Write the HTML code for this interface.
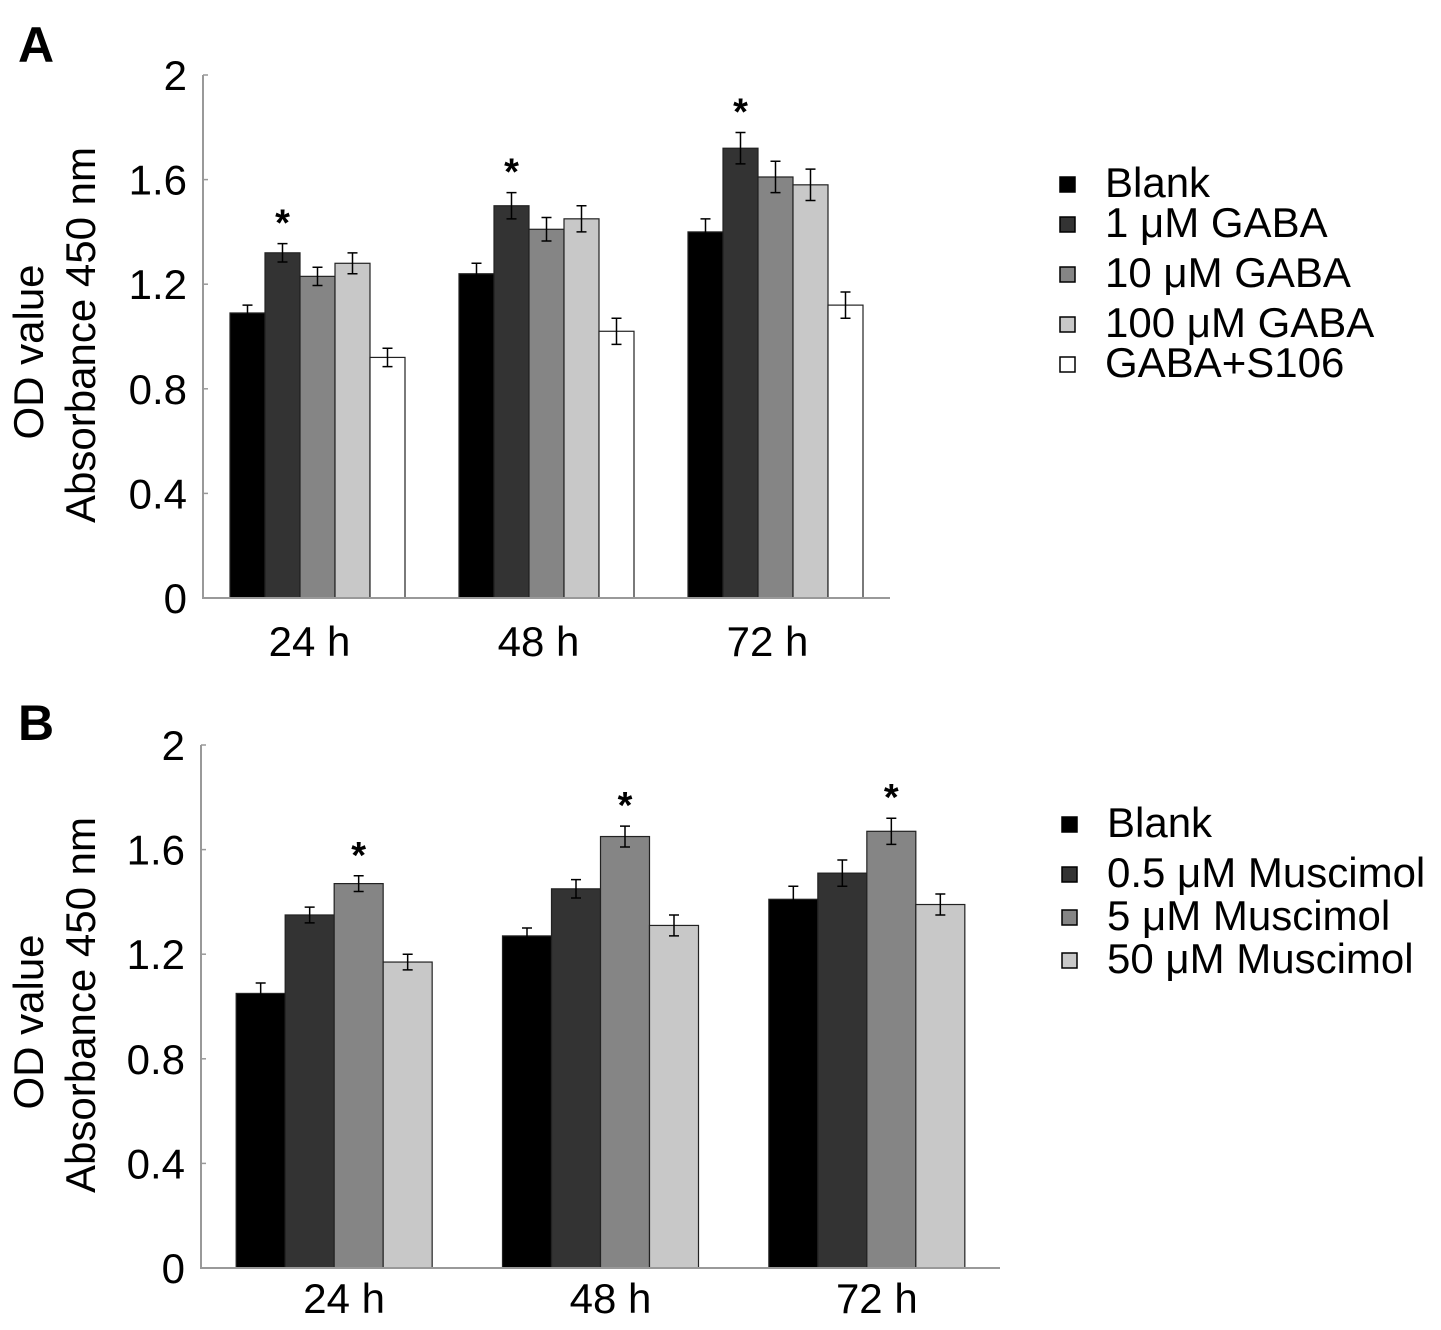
<!DOCTYPE html>
<html><head><meta charset="utf-8"><style>
body{margin:0;background:#fff;}
svg text{font-family:"Liberation Sans",Arial,sans-serif;}
</style></head><body>
<svg id="chart" width="1441" height="1325" xmlns="http://www.w3.org/2000/svg"></svg>
<script>
const categories = ["24 h","48 h","72 h"];
const seriesA = ["Blank","1 μM GABA","10 μM GABA","100 μM GABA","GABA+S106"];
const valuesA = [[1.09,1.24,1.40],[1.32,1.50,1.72],[1.23,1.41,1.61],[1.28,1.45,1.58],[0.92,1.02,1.12]];
const errorsA = [[0.03,0.04,0.05],[0.035,0.05,0.06],[0.035,0.045,0.06],[0.04,0.05,0.06],[0.035,0.05,0.05]];
const starsA = [1,1,1];
const seriesB = ["Blank","0.5 μM Muscimol","5 μM Muscimol","50 μM Muscimol"];
const valuesB = [[1.05,1.27,1.41],[1.35,1.45,1.51],[1.47,1.65,1.67],[1.17,1.31,1.39]];
const errorsB = [[0.04,0.03,0.05],[0.03,0.035,0.05],[0.03,0.04,0.05],[0.03,0.04,0.04]];
const starsB = [2,2,2];
const yTicks = [0,0.4,0.8,1.2,1.6,2];
const yTickLabels = ["0","0.4","0.8","1.2","1.6","2"];
const colorsA = ["#000","#333","#858585","#c8c8c8","#fff"];
const colorsB = ["#000","#333","#858585","#c8c8c8"];
const svg = document.getElementById('chart');
const NS = "http://www.w3.org/2000/svg";
function el(tag, attrs, parent){const e=document.createElementNS(NS,tag);for(const k in attrs)e.setAttribute(k,attrs[k]);(parent||svg).appendChild(e);return e;}
function txt(x,y,s,size,anchor,parent,extra){const t=el('text',Object.assign({x:x,y:y,'font-size':size,'text-anchor':anchor||'start',fill:'#000'},extra||{}),parent);t.textContent=s;return t;}

function panel(cfg){
  const g=el('g',{});
  
  
  const y=v=>cfg.y0-(v/2)*(cfg.y0-cfg.y2);
  const band=(cfg.xEnd-cfg.x0)/categories.length;
  const n=cfg.series.length;
  const gap=(band-n*cfg.bw)/2;
  const L=txt(cfg.letterX,cfg.letterY,cfg.letter,50,'start',g,{'font-weight':'bold'});
  
  
  categories.forEach((c,ci)=>{
    const gx=cfg.x0+ci*band+gap;
    const t=txt(cfg.x0+ci*band+band/2+cfg.labelShift,cfg.catY,c,42,'middle',g);
    
    
    cfg.series.forEach((s,si)=>{
      const v=cfg.values[si][ci], e=cfg.errors[si][ci];
      const bx=gx+si*cfg.bw;
      const r=el('rect',{x:bx,y:y(v),width:cfg.bw,height:y(0)-y(v),fill:cfg.colors[si],stroke:'#222','stroke-width':1.2},g);
      
      
      const cx=bx+cfg.bw/2;
      const eb=el('path',{d:`M${cx},${y(v+e)}V${y(v-e)}M${cx-5},${y(v+e)}H${cx+5}M${cx-5},${y(v-e)}H${cx+5}`,stroke:'#000','stroke-width':1.5,fill:'none'},g);
      
      
      if(cfg.stars[ci]===si){
        const st=txt(cx,y(v+e)-8,'*',38,'middle',g,{'font-weight':'bold'});
        
        
      }
    });
  });
  const ax=el('path',{d:`M${cfg.x0},${cfg.y2}V${cfg.y0}H${cfg.xEnd}`,stroke:'#999','stroke-width':2,fill:'none'},g);
  
  
  yTicks.forEach((v,i)=>{
    el('line',{x1:cfg.x0,x2:cfg.x0+5,y1:y(v),y2:y(v),stroke:'#999','stroke-width':1.5},g);
    const t=txt(cfg.x0-16,y(v)+15,yTickLabels[i],42,'end',g);
    
    
  });
  const yt1=txt(0,0,'OD value',42,'middle',g,{transform:`translate(${cfg.titleX},${cfg.titleY+17}) rotate(-90)`});
  
  
  const yt2=txt(0,0,'Absorbance 450 nm',42,'middle',g,{transform:`translate(${cfg.titleX+52},${cfg.titleY}) rotate(-90)`});
  
  
  cfg.series.forEach((s,si)=>{
    const ly=cfg.legY[si];
    const lg=el('g',{},g);
    
    
    el('rect',{x:cfg.legX,y:ly-20,width:15,height:15,fill:cfg.colors[si],stroke:'#000','stroke-width':1.5},lg);
    txt(cfg.legX+45,ly,s,42,'start',lg);
  });
}
panel({letter:'A',letterX:18,letterY:62,x0:203,xEnd:890,y0:598,y2:75,bw:35,series:seriesA,values:valuesA,errors:errorsA,stars:starsA,colors:colorsA,titleX:43,titleY:335,catY:656,labelShift:-8,legX:1060,legY:[197,237,287,337,377]});
panel({letter:'B',letterX:18,letterY:740,x0:201,xEnd:1000,y0:1268,y2:745,bw:49,series:seriesB,values:valuesB,errors:errorsB,stars:starsB,colors:colorsB,titleX:43,titleY:1005,catY:1313,labelShift:10,legX:1062,legY:[837,887,930,973]});
</script>
</body></html>
